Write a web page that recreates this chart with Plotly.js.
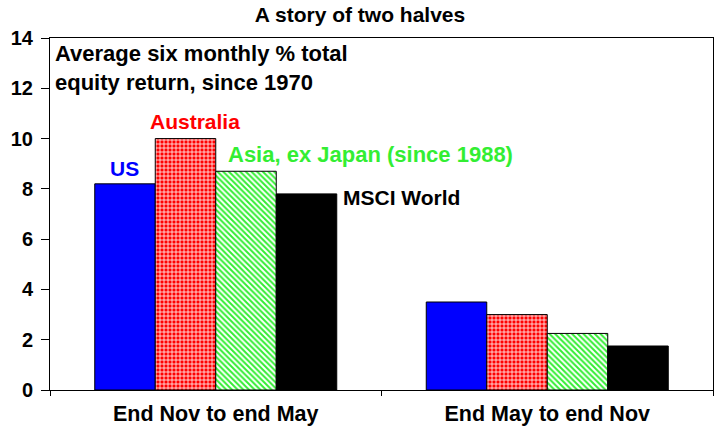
<!DOCTYPE html>
<html><head><meta charset="utf-8">
<script src="https://cdn.plot.ly/plotly-3.0.1.min.js"></script>
<style>body{margin:0}#c{width:720px;height:437px}</style>
</head><body><div id="c"></div>
<script>
var categories = ["End Nov to end May", "End May to end Nov"];
var seriesNames = ["US", "Australia", "Asia, ex Japan (since 1988)", "MSCI World"];
var usVals = [8.2, 3.5];
var ausVals = [10.0, 3.0];
var asiaVals = [8.7, 2.25];
var msciVals = [7.8, 1.75];
var yTicks = [0, 2, 4, 6, 8, 10, 12, 14];

var F = "Liberation Sans, Arial, sans-serif";
var line = {color: "#000", width: 1};
var traces = [
  {type: "bar", name: seriesNames[0], x: categories, y: usVals, marker: {color: "#0000FF", line: line}},
  {type: "bar", name: seriesNames[1], x: categories, y: ausVals, marker: {color: "#FF0000", line: line, pattern: {shape: "+", fgcolor: "#FFFFFF", bgcolor: "#FF0000", size: 4, solidity: 0.35, fillmode: "replace"}}},
  {type: "bar", name: seriesNames[2], x: categories, y: asiaVals, marker: {color: "#FFFFFF", line: line, pattern: {shape: "\\", fgcolor: "#33EE33", bgcolor: "#FFFFFF", size: 4, solidity: 0.5, fillmode: "replace"}}},
  {type: "bar", name: seriesNames[3], x: categories, y: msciVals, marker: {color: "#000000", line: line}}
];
var layout = {
  width: 720, height: 437,
  margin: {l: 50, r: 7, t: 38, b: 47},
  paper_bgcolor: "#fff", plot_bgcolor: "#fff",
  showlegend: false,
  barmode: "group", bargap: 0.27, bargroupgap: 0,
  title: {text: "<b>A story of two halves</b>", x: 0.5, xanchor: "center", y: 0.983, yanchor: "top", font: {family: F, size: 21, color: "#000"}},
  xaxis: {
    type: "category", showline: true, mirror: true, linecolor: "#000", linewidth: 1,
    ticks: "outside", tickson: "boundaries", ticklen: 5, tickcolor: "#000",
    tickvals: categories, ticktext: categories.map(function(c){return "<b>"+c+"</b>";}),
    tickfont: {family: F, size: 21.5, color: "#000"}, showgrid: false,
    ticklabelstandoff: 4
  },
  yaxis: {
    range: [0, 14], tickvals: yTicks, ticktext: yTicks.map(function(v){return "<b>"+v+"</b>";}),
    showline: true, mirror: true, linecolor: "#000", linewidth: 1,
    ticks: "outside", ticklen: 8, tickcolor: "#000", showgrid: false, zeroline: false,
    tickfont: {family: F, size: 20, color: "#000"}, ticklabelstandoff: 4
  },
  annotations: [
    {text: "<b>Average six monthly % total<br>equity return, since 1970</b>", xref: "paper", yref: "paper", x: 0.0, xshift: 3, y: 1, yshift: -1, xanchor: "left", yanchor: "top", align: "left", showarrow: false, font: {family: F, size: 22, color: "#000"}},
    {text: "<b>US</b>", xref: "x", yref: "y", x: 0, xshift: -91, y: usVals[0], yanchor: "bottom", yshift: 2, showarrow: false, font: {family: F, size: 21, color: "#0000FF"}},
    {text: "<b>Australia</b>", xref: "x", yref: "y", x: 0, xshift: -21, y: ausVals[0], yanchor: "bottom", yshift: 4, showarrow: false, font: {family: F, size: 21, color: "#FF0000"}},
    {text: "<b>Asia, ex Japan (since 1988)</b>", xref: "x", yref: "y", x: 0, xshift: 10, y: asiaVals[0], xanchor: "left", yanchor: "bottom", yshift: 2, showarrow: false, font: {family: F, size: 22, color: "#33EE33"}},
    {text: "<b>MSCI World</b>", xref: "x", yref: "y", x: 0, xshift: 125, y: msciVals[0], yshift: -4, xanchor: "left", yanchor: "middle", showarrow: false, font: {family: F, size: 21, color: "#000"}}
  ]
};
Plotly.newPlot("c", traces, layout, {staticPlot: true});
</script></body></html>
